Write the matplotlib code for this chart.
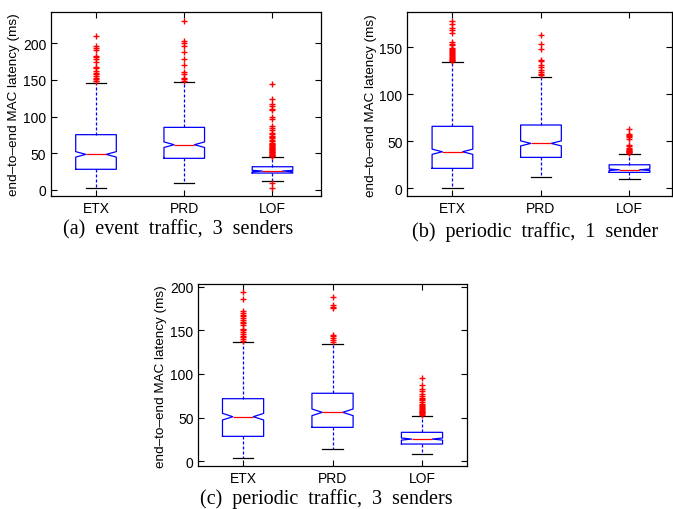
import matplotlib
matplotlib.use("Agg")
import matplotlib.pyplot as plt

names = ["ETX", "PRD", "LOF"]

# (a) event traffic, 3 senders
a_med = [48.3, 61.5, 25.5]
a_q1 = [27.9, 42.9, 22.8]
a_q3 = [75.2, 85.2, 31.4]
a_lo = [2.3, 8.7, 11.5]
a_hi = [145.8, 147.5, 44.3]
a_notch = [3.7, 3.8, 1.0]
a_fliers = [
    [210, 196, 194, 191, 183, 181, 178, 174, 168, 166, 162, 160, 158, 156, 153, 151, 149, 148],
    [230, 203, 200, 197, 188, 178, 171, 161, 158, 152, 151, 149],
    [145, 124, 117, 115, 110, 109, 99, 97, 87, 85, 81, 78, 76, 74, 72, 70, 68, 66, 64, 63,
     62, 61, 60, 59, 58, 57, 56, 55, 54, 53, 52, 51, 50, 49, 48, 47, 46, 45.5, 9, 3],
]

# (b) periodic traffic, 1 sender
b_med = [38.7, 47.6, 19.5]
b_q1 = [21.0, 32.7, 16.7]
b_q3 = [65.8, 67.2, 24.8]
b_lo = [0.0, 11.4, 9.3]
b_hi = [134.0, 118.3, 36.6]
b_notch = [2.8, 2.7, 0.8]
b_fliers = [
    [178, 175, 171, 168, 165, 156, 154, 152, 149, 148, 147, 146, 145, 144, 143, 142, 141,
     140, 139, 138, 137, 136, 135],
    [163, 154, 148, 137, 135, 131, 129, 126, 124, 122, 120.5],
    [63, 58, 57, 55, 54, 52, 46, 45, 43, 42, 41, 40, 39, 38.5, 38, 37.5],
]

# (c) periodic traffic, 3 senders
c_med = [51.1, 56.1, 25.5]
c_q1 = [28.6, 38.9, 19.8]
c_q3 = [71.7, 77.9, 33.2]
c_lo = [3.4, 14.1, 8.4]
c_hi = [136.3, 134.7, 52.3]
c_notch = [3.8, 3.8, 1.2]
c_fliers = [
    [194, 186, 172, 170, 168, 166, 164, 162, 160, 158, 156, 152, 150, 148, 146, 144, 142,
     140, 138],
    [188, 179, 177, 175, 145, 143, 141, 139, 137],
    [95, 87, 83, 81, 77, 75, 73, 71, 70, 68, 66, 65, 63, 62, 61, 60, 59, 58, 57, 56, 55, 54, 53],
]

yticks = [0, 50, 100, 150, 200]
ylabel = "end\u2013to\u2013end MAC latency (ms)"

SANS = "Liberation Sans"
SERIF = "Liberation Serif"


def draw(ax, med, q1, q3, lo, hi, notch, fliers, ylim, xlim, ticks):
    stats = []
    for i in range(len(names)):
        stats.append(dict(med=med[i], q1=q1[i], q3=q3[i], whislo=lo[i], whishi=hi[i],
                          cilo=med[i] - notch[i], cihi=med[i] + notch[i],
                          fliers=fliers[i], label=names[i]))
    ax.bxp(stats, positions=[1, 2, 3], widths=0.46, shownotches=True,
           boxprops=dict(color="blue", lw=0.9),
           medianprops=dict(color="red", lw=0.9),
           whiskerprops=dict(color="blue", lw=0.9, linestyle=(0, (2.4, 1.6))),
           capprops=dict(color="black", lw=0.9),
           flierprops=dict(marker="+", markeredgecolor="red", markersize=3.8,
                           markeredgewidth=1.0, linestyle="none"))
    ax.set_xlim(*xlim)
    ax.set_ylim(*ylim)
    ax.set_yticks(ticks)
    ax.tick_params(direction="in", length=4, width=0.8, labelsize=10,
                   top=True, right=True)
    for lab in ax.get_xticklabels() + ax.get_yticklabels():
        lab.set_fontfamily(SANS)
    ax.set_ylabel(ylabel, fontsize=9.7, family=SANS, labelpad=2)
    for s in ax.spines.values():
        s.set_linewidth(0.9)


fig = plt.figure(figsize=(6.73, 5.10), dpi=100)
ax_a = fig.add_axes([0.0758, 0.6137, 0.4012, 0.3608])
ax_b = fig.add_axes([0.6052, 0.6131, 0.3933, 0.3608])
ax_c = fig.add_axes([0.2947, 0.0837, 0.3988, 0.3575])

draw(ax_a, a_med, a_q1, a_q3, a_lo, a_hi, a_notch, a_fliers, (-8.6, 242.8), (0.49, 3.55), yticks)
draw(ax_b, b_med, b_q1, b_q3, b_lo, b_hi, b_notch, b_fliers, (-8.8, 187.3), (0.49, 3.48), yticks[:4])
draw(ax_c, c_med, c_q1, c_q3, c_lo, c_hi, c_notch, c_fliers, (-5.7, 203), (0.5, 3.5), yticks)

fig.text(178.5 / 673, 1 - 230 / 510, "(a)  event  traffic,  3  senders",
         ha="center", va="center", fontsize=14.5, family=SERIF)
fig.text(535 / 673, 1 - 232 / 510, "(b)  periodic  traffic,  1  sender",
         ha="center", va="center", fontsize=14.5, family=SERIF)
fig.text(326.7 / 673, 1 - 499 / 510, "(c)  periodic  traffic,  3  senders",
         ha="center", va="center", fontsize=14.5, family=SERIF)

fig.savefig("out.png", dpi=100)
